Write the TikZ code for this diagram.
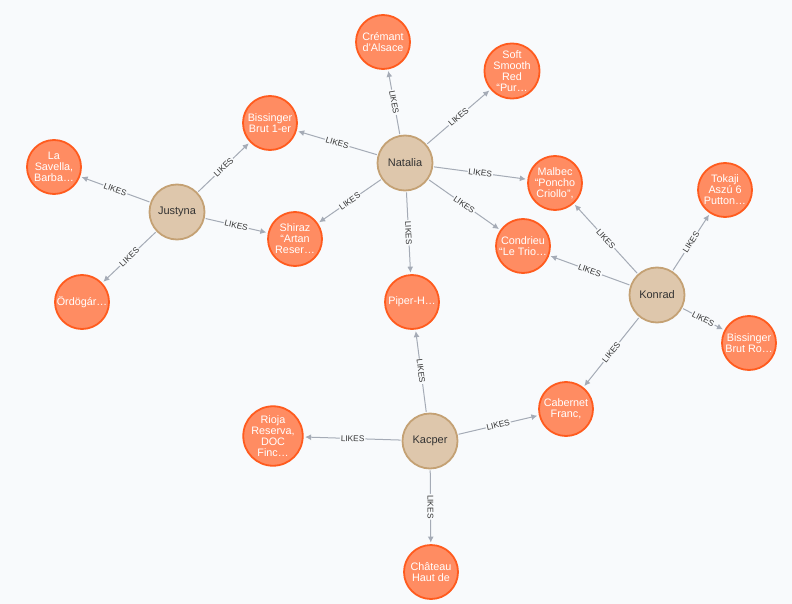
\documentclass[tikz,border=0pt]{standalone}
\usepackage{fontspec}
\setmainfont{Liberation Sans}
\usetikzlibrary{arrows.meta}
\definecolor{bgc}{HTML}{F8FAFC}
\definecolor{winefill}{HTML}{FF8C62}
\definecolor{winedraw}{HTML}{FF5B1E}
\definecolor{personfill}{HTML}{DEC7AC}
\definecolor{persondraw}{HTML}{C4A174}
\definecolor{edgec}{HTML}{A5ABB6}
\definecolor{labc}{HTML}{333333}
\tikzset{
  wine/.style={circle, minimum size=54pt, inner sep=0pt, fill=winefill, draw=winedraw, line width=1.8pt, text=white, align=center, font=\fontsize{10.8}{11}\selectfont},
  person/.style={circle, minimum size=55pt, inner sep=0pt, fill=personfill, draw=persondraw, line width=1.8pt, text=labc, align=center, font=\fontsize{11}{12}\selectfont},
  likes/.style={draw=edgec, line width=1pt, -{Latex[length=6pt,width=6pt]}, shorten >=1.5pt, shorten <=1pt},
  lab/.style={midway, sloped, fill=bgc, inner sep=1pt, text=labc, font=\fontsize{8.3}{9}\selectfont}
}
\begin{document}
\begin{tikzpicture}[x=1pt,y=-1pt]
\fill[bgc] (0,0) rectangle (792,604);
\useasboundingbox (0,0) rectangle (792,604);
% wines
\node[wine] (cremant) at (383,42) {Crémant\\d’Alsace};
\node[wine] (soft) at (512,71) {Soft\\Smooth\\Red\\“Pur…};
\node[wine] (bisbrut) at (270,123) {Bissinger\\Brut 1-er};
\node[wine] (savella) at (54,167) {La\\Savella,\\Barba…};
\node[wine] (malbec) at (555,183) {Malbec\\“Poncho\\Criollo”,};
\node[wine] (tokaji) at (725,190) {Tokaji\\Aszú 6\\Putton…};
\node[wine] (shiraz) at (295,239) {Shiraz\\“Artan\\Reser…};
\node[wine] (condrieu) at (523,246) {Condrieu\\“Le Trio…};
\node[wine] (ordog) at (82,302) {Ördögár…};
\node[wine] (piper) at (412,302) {Piper-H…};
\node[wine] (bisro) at (749,343) {Bissinger\\Brut Ro…};
\node[wine] (cabernet) at (566,409) {Cabernet\\Franc,};
\node[wine] (rioja) at (273,436) {Rioja\\Reserva,\\DOC\\Finc…};
\node[wine] (chateau) at (431,572) {Château\\Haut de};
% persons
\node[person] (natalia) at (405,163) {Natalia};
\node[person] (justyna) at (177,212) {Justyna};
\node[person] (konrad) at (657,295) {Konrad};
\node[person] (kacper) at (430,441) {Kacper};
% edges
\foreach \t in {cremant,soft,bisbrut,malbec,condrieu,piper,shiraz}
  \draw[likes] (natalia) -- (\t) node[lab] {LIKES};
\foreach \t in {bisbrut,savella,shiraz,ordog}
  \draw[likes] (justyna) -- (\t) node[lab] {LIKES};
\foreach \t in {malbec,condrieu,tokaji,bisro,cabernet}
  \draw[likes] (konrad) -- (\t) node[lab] {LIKES};
\foreach \t in {piper,cabernet,rioja,chateau}
  \draw[likes] (kacper) -- (\t) node[lab] {LIKES};
\end{tikzpicture}
\end{document}
